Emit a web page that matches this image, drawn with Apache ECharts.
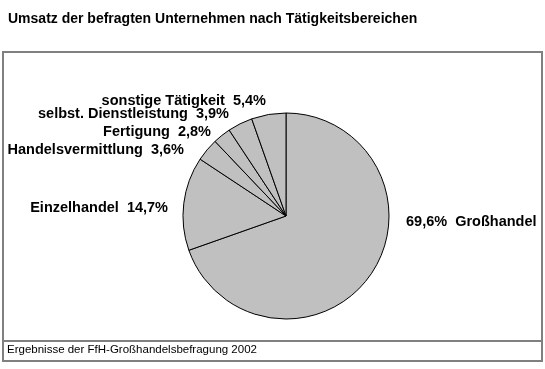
<!DOCTYPE html>
<html><head><meta charset="utf-8">
<script src="https://cdn.jsdelivr.net/npm/echarts@6/dist/echarts.min.js"></script>
<style>html,body{margin:0;padding:0;background:#fff}#c{width:545px;height:369px}</style>
</head><body><div id="c"></div>
<script>
const titleText = 'Umsatz der befragten Unternehmen nach Tätigkeitsbereichen';
const footerText = 'Ergebnisse der FfH-Großhandelsbefragung 2002';
const categories = ['Großhandel','Einzelhandel','Handelsvermittlung','Fertigung','selbst. Dienstleistung','sonstige Tätigkeit'];
const values = [69.6, 14.7, 3.6, 2.8, 3.9, 5.4];

const labelPos = {
  'Großhandel': {x: 406, y: 222, align: 'left'},
  'Einzelhandel': {x: 168, y: 208, align: 'right'},
  'Handelsvermittlung': {x: 184, y: 150, align: 'right'},
  'Fertigung': {x: 211, y: 132, align: 'right'},
  'selbst. Dienstleistung': {x: 229, y: 114, align: 'right'},
  'sonstige Tätigkeit': {x: 266, y: 101, align: 'right'}
};
const fmt = v => v.toFixed(1).replace('.', ',') + '%';
const chart = echarts.init(document.getElementById('c'), null, {renderer: 'canvas'});
chart.setOption({
  animation: false,
  title: {text: titleText, left: 3, top: 7, textStyle: {fontFamily: 'Liberation Sans, Arial', fontSize: 14, fontWeight: 'bold', color: '#000'}},
  graphic: [
    {type: 'rect', shape: {x: 3, y: 52, width: 539, height: 309}, style: {fill: 'none', stroke: '#808080', lineWidth: 2}, z: 0},
    {type: 'line', shape: {x1: 3, y1: 341, x2: 542, y2: 341}, style: {stroke: '#808080', lineWidth: 2}},
    {type: 'text', left: 7, top: 344, style: {text: footerText, font: '11.5px "Liberation Sans", Arial', fill: '#000'}}
  ],
  series: [{
    type: 'pie',
    center: [286, 216],
    radius: [0, 103],
    startAngle: 90,
    clockwise: true,
    avoidLabelOverlap: false,
    itemStyle: {color: '#c0c0c0', borderColor: '#000', borderWidth: 1},
    emphasis: {disabled: true},
    label: {
      show: true, position: 'outside', color: '#000',
      fontFamily: 'Liberation Sans, Arial', fontSize: 14.5, fontWeight: 'bold',
      formatter: p => p.name === 'Großhandel' ? fmt(p.value) + '  ' + p.name : p.name + '  ' + fmt(p.value)
    },
    labelLine: {show: false},
    labelLayout: p => {
      const n = categories[p.dataIndex];
      const lp = labelPos[n];
      return {x: lp.x, y: lp.y, align: lp.align, verticalAlign: 'middle'};
    },
    data: categories.map((c, i) => ({name: c, value: values[i]}))
  }]
});
</script></body></html>
